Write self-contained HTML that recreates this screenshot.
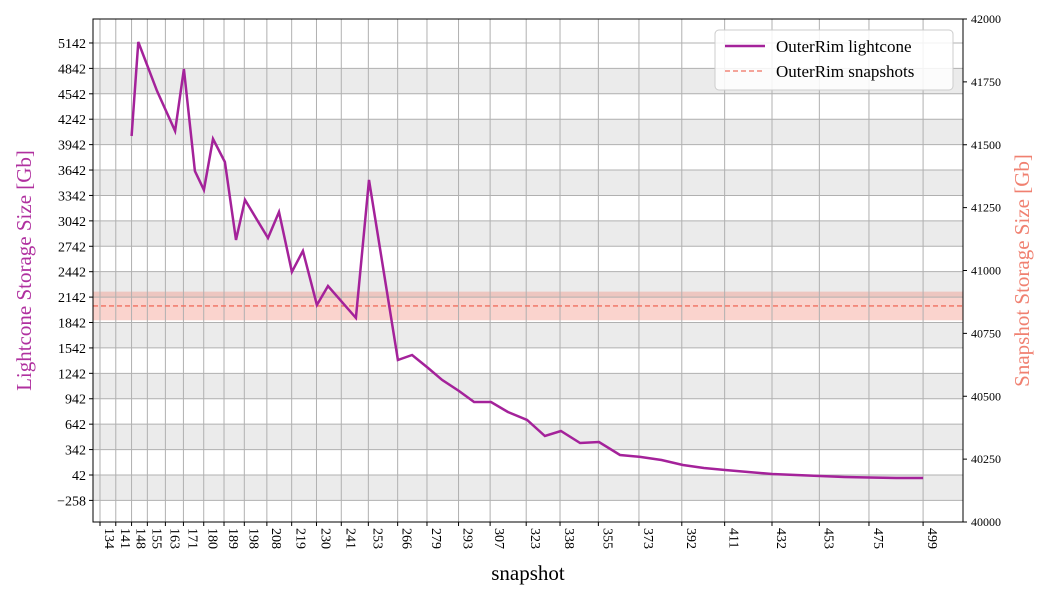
<!DOCTYPE html>
<html><head><meta charset="utf-8"><style>
body{margin:0;background:#fff;}
svg{display:block;font-family:"Liberation Serif",serif;}
</style></head><body>
<svg id="chart" width="1050" height="600"></svg>
<script>
const snapshots=[148,151,159.3,167.3,171.2,176.1,180.1,184.1,189.4,194.3,198.3,208.5,213.4,219.1,224,230.2,235.1,247.5,253.3,266.1,272.4,279.5,285.7,293.2,299.9,307.4,314.9,323.4,331.3,338.4,346.9,355.3,364.6,373.5,383,392.5,401.8,411.2,421.4,432,442.6,453.3,464,475,487,499];
const lightconeGb=[4044,5154,4576,4103,4835,3631,3407,4009,3737,2816,3289,2840,3147,2439,2687,2049,2273,1896,3525,1400,1459,1305,1164,1034,904,904,786,691,502,561,420,432,278,255,219,160,125,101,77,54,42,30,18,12,7,7];
const snapshotGb=40859;
const snapshotBand=57;
const xTicks=[134,141,148,155,163,171,180,189,198,208,219,230,241,253,266,279,293,307,323,338,355,373,392,411,432,453,475,499];
const yTicks=[-258,42,342,642,942,1242,1542,1842,2142,2442,2742,3042,3342,3642,3942,4242,4542,4842,5142];
const y2Ticks=[40000,40250,40500,40750,41000,41250,41500,41750,42000];

const L=93,R=963,T=19,B=522;
const xMin=130.9,xMax=516.7,yMin=-513,yMax=5425,y2Min=40000,y2Max=42000;
const X=v=>L+(v-xMin)/(xMax-xMin)*(R-L);
const Y=v=>B-(v-yMin)/(yMax-yMin)*(B-T);
const Y2=v=>B-(v-y2Min)/(y2Max-y2Min)*(B-T);
const NS="http://www.w3.org/2000/svg";
const svg=document.getElementById('chart');
function mk(tag,attrs,parent){const e=document.createElementNS(NS,tag);for(const k in attrs)e.setAttribute(k,attrs[k]);(parent||svg).appendChild(e);return e;}

for(let i=0;i+1<yTicks.length;i+=2){
  const r=mk('rect',{x:L,y:Y(yTicks[i+1]),width:R-L,height:Y(yTicks[i])-Y(yTicks[i+1]),fill:'#ebebeb'});
  
  
}
const band=mk('rect',{x:L,y:Y2(snapshotGb+snapshotBand),width:R-L,height:Y2(snapshotGb-snapshotBand)-Y2(snapshotGb+snapshotBand),fill:'#f08070','fill-opacity':0.35});


xTicks.forEach(t=>{const g=mk('line',{x1:X(t),x2:X(t),y1:T,y2:B,stroke:'#b0b0b0','stroke-width':1});

});
yTicks.forEach(t=>{const g=mk('line',{x1:L,x2:R,y1:Y(t),y2:Y(t),stroke:'#b0b0b0','stroke-width':1});

});
const sl=mk('line',{x1:L,x2:R,y1:Y2(snapshotGb),y2:Y2(snapshotGb),stroke:'#f07060','stroke-width':1.3,'stroke-dasharray':'5,3'});


const pts=snapshots.map((s,i)=>X(s).toFixed(1)+','+Y(lightconeGb[i]).toFixed(1)).join(' ');
const lc=mk('polyline',{points:pts,fill:'none',stroke:'#a4229a','stroke-width':2.5,'stroke-linejoin':'miter'});


const fr=mk('rect',{x:L,y:T,width:R-L,height:B-T,fill:'none',stroke:'#000','stroke-width':1});


xTicks.forEach(t=>{
  mk('line',{x1:X(t),x2:X(t),y1:B,y2:B+4,stroke:'#000'});
  const tx=mk('text',{x:0,y:0,'font-size':14,transform:`translate(${X(t)+5},${B+6}) rotate(90)`});
  tx.textContent=t;
  
  
});
yTicks.forEach(t=>{
  mk('line',{x1:L-4,x2:L,y1:Y(t),y2:Y(t),stroke:'#000'});
  const tx=mk('text',{x:L-7,y:Y(t)+5,'font-size':14,'text-anchor':'end'});
  tx.textContent=t<0?'\u2212'+(-t):t;
  
  
});
y2Ticks.forEach(t=>{
  mk('line',{x1:R,x2:R+4,y1:Y2(t),y2:Y2(t),stroke:'#000'});
  const tx=mk('text',{x:R+8,y:Y2(t)+4,'font-size':12});
  tx.textContent=t;
  
  
});
const xt=mk('text',{x:(L+R)/2,y:580,'font-size':21,'text-anchor':'middle'});xt.textContent='snapshot';


const yt=mk('text',{x:0,y:0,'font-size':21,'text-anchor':'middle',fill:'#b0309f',transform:`translate(31,${(T+B)/2}) rotate(-90)`});yt.textContent='Lightcone Storage Size [Gb]';


const y2t=mk('text',{x:0,y:0,'font-size':21,'text-anchor':'middle',fill:'#f08070',transform:`translate(1029,${(T+B)/2}) rotate(-90)`});y2t.textContent='Snapshot Storage Size [Gb]';


const lg=mk('g',{});


mk('rect',{x:715,y:30,width:238,height:60,rx:4,fill:'#fff','fill-opacity':0.85,stroke:'#ccc'},lg);
mk('line',{x1:725,x2:765,y1:46,y2:46,stroke:'#a4229a','stroke-width':2.5},lg);
mk('line',{x1:725,x2:765,y1:71,y2:71,stroke:'#f07060','stroke-width':1.3,'stroke-dasharray':'5,3'},lg);
const l1=mk('text',{x:776,y:52,'font-size':17},lg);l1.textContent='OuterRim lightcone';


const l2=mk('text',{x:776,y:77,'font-size':17},lg);l2.textContent='OuterRim snapshots';


</script>
</body></html>
